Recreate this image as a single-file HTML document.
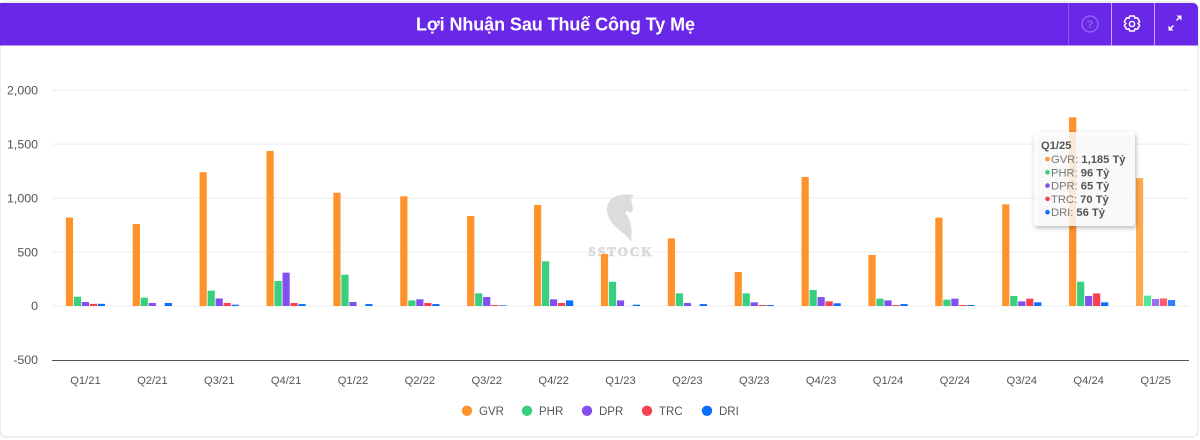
<!DOCTYPE html>
<html lang="vi">
<head>
<meta charset="utf-8">
<title>Lợi Nhuận Sau Thuế Công Ty Mẹ</title>
<style>
html,body{margin:0;padding:0;background:#fff;width:1200px;height:440px;overflow:hidden}
svg{display:block;font-family:"Liberation Sans",sans-serif}
</style>
</head>
<body>
<svg id="chart" width="1200" height="440" viewBox="0 0 1200 440" xmlns="http://www.w3.org/2000/svg">
  <rect x="0" y="2" width="1198" height="435" rx="6" fill="#fff" stroke="#e4e4e7" stroke-width="1.2"/>
  <path d="M0 3H1192Q1198 3 1198 9V45.500H0Z" fill="#6927e8"/>
  <text x="555.500" y="30.500" text-anchor="middle" font-size="18" font-weight="700" fill="#fff" textLength="279" lengthAdjust="spacing">Lợi Nhuận Sau Thuế Công Ty Mẹ</text>
  <g>
    <line x1="1068.500" x2="1068.500" y1="3" y2="45" stroke="#8a5bec" stroke-width="1"/>
    <circle cx="1090" cy="24" r="8" fill="none" stroke="#9264ef" stroke-width="1.400"/>
    <text x="1090" y="28" text-anchor="middle" font-size="11" font-weight="700" fill="#9264ef">?</text>
  </g>
  <g>
    <line x1="1111.500" x2="1111.500" y1="3" y2="45" stroke="#c4abf5" stroke-width="1"/>
    <path d="M1129.700 16h4.600l.7 2.300 2.400-.6 2.300 4-1.700 1.800 1.700 1.800-2.300 4-2.400-.6-.7 2.300h-4.600l-.7-2.300-2.400.6-2.300-4 1.700-1.800-1.700-1.800 2.300-4 2.400.6z" fill="none" stroke="#fff" stroke-width="1.500" stroke-linejoin="round"/>
    <circle cx="1132" cy="24" r="2.600" fill="none" stroke="#fff" stroke-width="1.400"/>
  </g>
  <g>
    <line x1="1154.500" x2="1154.500" y1="3" y2="45" stroke="#c4abf5" stroke-width="1"/>
    <path d="M1176.500 20.500L1179 18" fill="none" stroke="#fff" stroke-width="1.400"/>
    <path d="M1181.500 15.500V20.500L1176.500 15.500Z" fill="#fff"/>
    <path d="M1173.500 25.500L1171 28" fill="none" stroke="#fff" stroke-width="1.400"/>
    <path d="M1168.500 30.500V25.500L1173.500 30.500Z" fill="#fff"/>
  </g>

  <g id="grid"></g>
  <g id="yticks"></g>

  <g>
    <path d="M615 197C619 194 628 194 634 195L631 199L633 209L631 213L627 211L625 213C630 218 633 226 631 242C627 234 616 230 610 220C605 211 606 201 615 197Z" fill="#dcdcdc"/>
    <text x="620" y="256" text-anchor="middle" font-family="'Liberation Serif',serif" font-size="13" font-weight="700" fill="#d8d8d8" stroke="#d8d8d8" stroke-width=".7" textLength="63">SSTOCK</text>
  </g>

  <g id="bars"></g>
  <line x1="52" x2="1189" y1="360.500" y2="360.500" stroke="#555" stroke-width="1"/>
  <g id="xticks"></g>
  <g id="legend"></g>

  <defs>
    <filter id="tipShadow" x="-20%" y="-20%" width="140%" height="140%">
      <feDropShadow dx="1" dy="2" stdDeviation="2.500" flood-color="#000" flood-opacity=".35"/>
    </filter>
  </defs>
  <g id="tooltip"></g>
</svg>
<script>
var categories = ["Q1/21","Q2/21","Q3/21","Q4/21","Q1/22","Q2/22","Q3/22","Q4/22","Q1/23","Q2/23","Q3/23","Q4/23","Q1/24","Q2/24","Q3/24","Q4/24","Q1/25"];
var seriesNames = ["GVR","PHR","DPR","TRC","DRI"];
var seriesColors = ["#ff922b","#37d07f","#8250ee","#f9424f","#0d6efd"];
var hoverColors = ["#ffa94d","#51e79a","#9b70f5","#fb5f6a","#2f83fd"];
var gvrValues = [820,760,1240,1437,1050,1017,834,936,482,627,315,1196,473,819,942,1749,1185];
var phrValues = [86,77,142,232,290,52,117,414,225,117,117,148,68,59,93,225,96];
var dprValues = [37,28,70,309,37,62,83,62,52,28,34,83,52,68,43,93,65];
var trcValues = [20,0,28,28,0,28,9,28,0,0,9,43,9,9,68,117,70];
var driValues = [20,28,12,18,18,18,6,52,12,18,9,25,18,9,34,34,56];
var yTicks = [2000,1500,1000,500,0,-500];
var tooltipIndex = 16;
var seriesValues = [gvrValues,phrValues,dprValues,trcValues,driValues];

var NS = "http://www.w3.org/2000/svg";
var plotLeft = 52, plotRight = 1189, zeroY = 306, pxPerUnit = 53.95 / 500;
function yScale(v){ return zeroY - v * pxPerUnit; }
function xCenter(i){ return plotLeft + (plotRight - plotLeft) / categories.length * (i + 0.5); }
function fmt(v){ return v.toLocaleString("en-US"); }
function mk(tag, attrs, parent, txt){
  var el = document.createElementNS(NS, tag);
  for (var k in attrs) el.setAttribute(k, attrs[k]);
  if (txt !== undefined) el.textContent = txt;
  parent.appendChild(el);
  return el;
}

var gridG = document.getElementById("grid");
var yG = document.getElementById("yticks");
yTicks.forEach(function(t){
  if (t !== yTicks[yTicks.length - 1]) {
    var gl = mk("line", {x1:plotLeft, x2:plotRight, y1:yScale(t), y2:yScale(t), stroke:"#ececee", "stroke-width":1}, gridG);
    
    
  }
  var yl = mk("text", {x:38, y:yScale(t) + 4.2, "text-anchor":"end", "font-size":12.4, fill:"#555"}, yG, fmt(t));
  
  
});

var barsG = document.getElementById("bars");
var barStep = 8, barW = 7.2;
categories.forEach(function(c, i){
  var x0 = xCenter(i) - (barStep * seriesNames.length - (barStep - barW)) / 2;
  seriesValues.forEach(function(vals, s){
    var v = vals[i];
    var y = yScale(Math.max(v, 0));
    var h = Math.abs(yScale(v) - zeroY);
    var bar = mk("rect", {x:x0 + s * barStep, y:y, width:barW, height:h, fill:(i === tooltipIndex ? hoverColors[s] : seriesColors[s])}, barsG);
    
    
  });
  var xl = mk("text", {x:xCenter(i), y:384, "text-anchor":"middle", "font-size":11.2, fill:"#555"}, document.getElementById("xticks"), c);
  
  
});

var legendG = document.getElementById("legend");
seriesNames.forEach(function(n, s){
  var lx = 467 + s * 60;
  var entry = mk("g", {}, legendG);
  
  
  mk("circle", {cx:lx, cy:410.8, r:5.2, fill:seriesColors[s]}, entry);
  mk("text", {x:lx + 12, y:415, "font-size":11.5, fill:"#555"}, entry, n);
});

var tipG = document.getElementById("tooltip");
var tipBox = mk("rect", {x:1034, y:132, width:101, height:94, rx:3, fill:"#fff", "fill-opacity":0.8, filter:"url(#tipShadow)"}, tipG);


var tipTitle = mk("text", {x:1041, y:149, "font-size":11.2, "font-weight":700, fill:"#555"}, tipG, categories[tooltipIndex]);


seriesNames.forEach(function(n, s){
  var ry = 163 + s * 13.3;
  var row = mk("g", {}, tipG);
  
  
  mk("circle", {cx:1047.5, cy:ry - 4, r:2.3, fill:seriesColors[s]}, row);
  var lab = mk("text", {x:1051, y:ry, "font-size":11.2, fill:"#777"}, row);
  lab.textContent = n + ":";
  var val = mk("text", {x:1051 + lab.getComputedTextLength() + 3, y:ry, "font-size":11.2, "font-weight":700, fill:"#555"}, row);
  val.textContent = fmt(seriesValues[s][tooltipIndex]) + " Tỷ";
});
</script>
</body>
</html>
